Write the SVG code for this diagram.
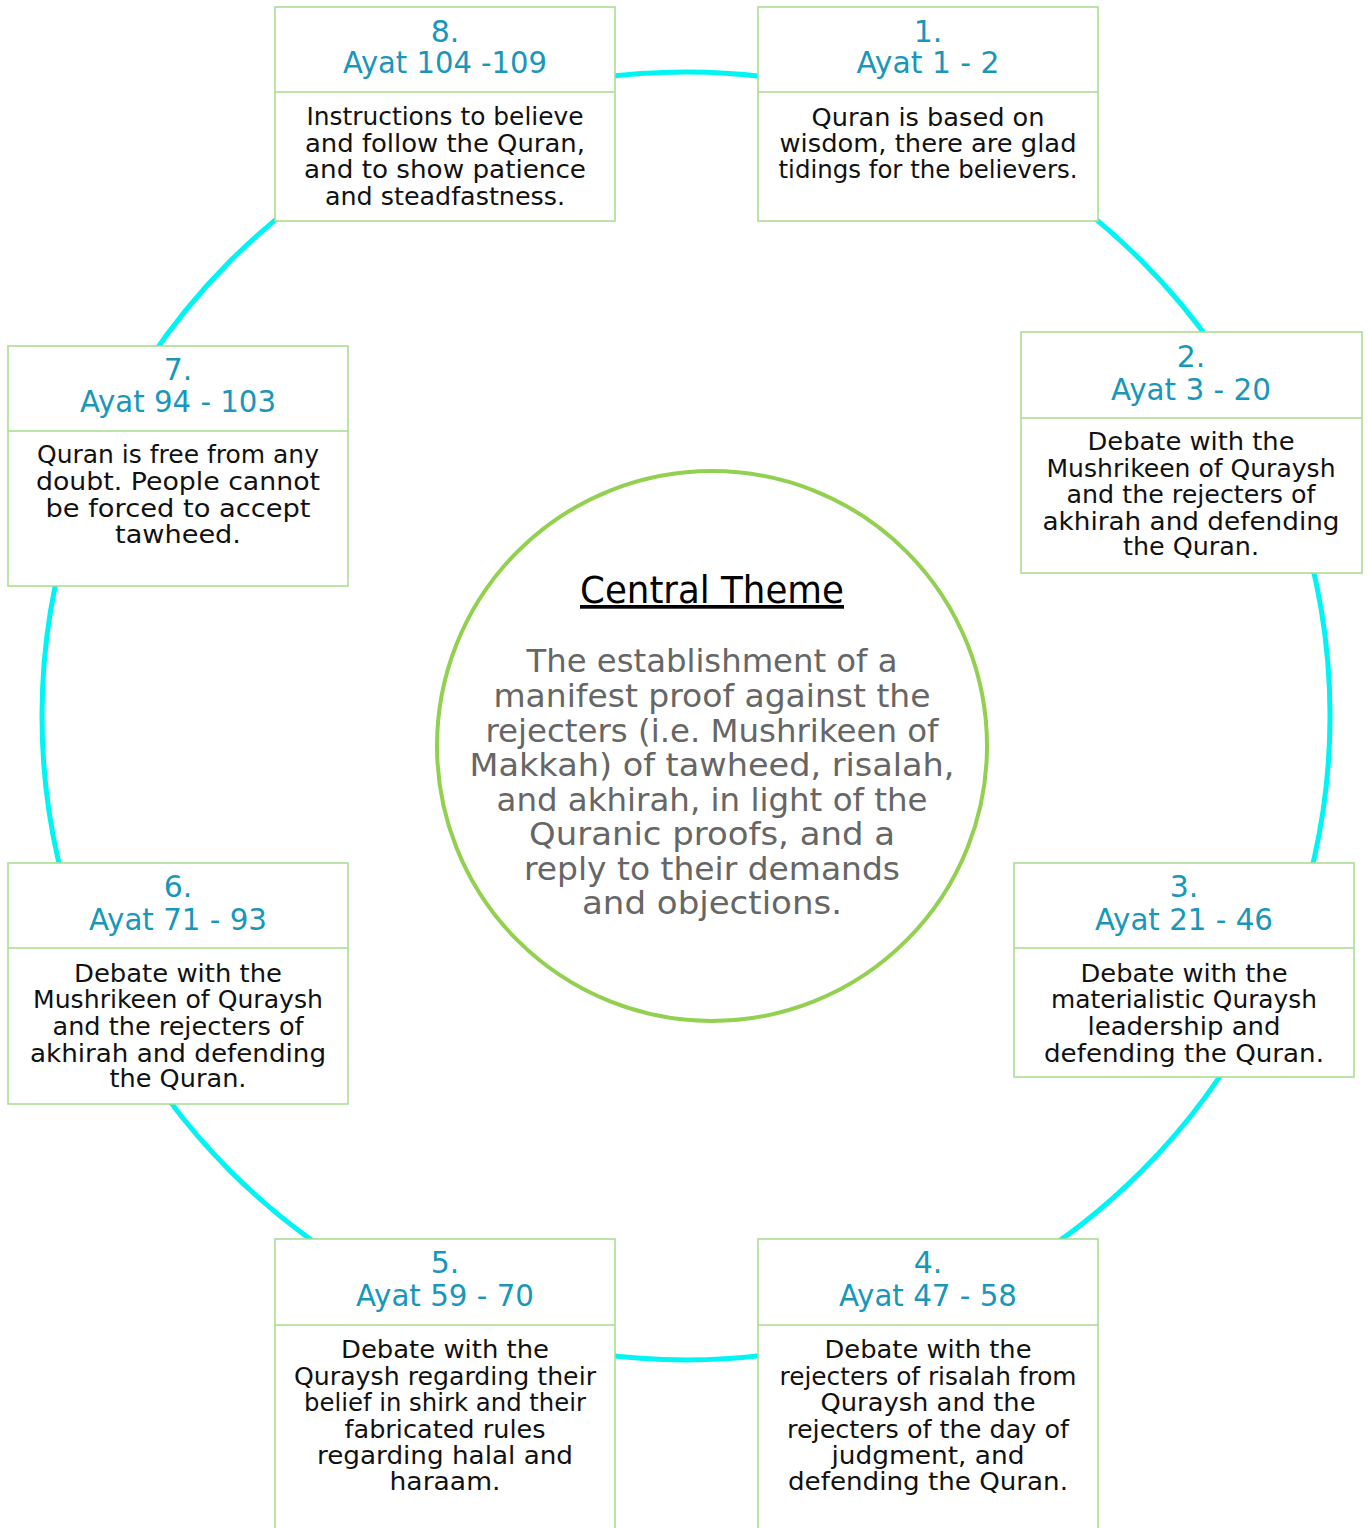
<svg xmlns="http://www.w3.org/2000/svg" width="1369" height="1528" viewBox="0 0 1369 1528">
<style>
.box{fill:#ffffff;stroke:#A8DC8C;stroke-width:1.5}
.div{stroke:#A8DC8C;stroke-width:1.5}
.hd{font-family:"DejaVu Sans","Liberation Sans",sans-serif;font-size:30px;fill:#1897BA;text-anchor:middle}
.bd{font-family:"DejaVu Sans","Liberation Sans",sans-serif;font-size:24px;fill:#111111;text-anchor:middle}
.ct{font-family:"DejaVu Sans","Liberation Sans",sans-serif;font-size:37px;fill:#000000;text-anchor:middle;text-decoration:underline}
.cb{font-family:"DejaVu Sans","Liberation Sans",sans-serif;font-size:32px;fill:#666666;text-anchor:middle}
</style>
<rect width="1369" height="1528" fill="#ffffff"/>
<g id="connectors">
<circle cx="686" cy="716" r="644" fill="none" stroke="#00F4F4" stroke-width="5"/>
</g>
<g id="center">
<circle cx="712" cy="746" r="275" fill="#ffffff" stroke="#92D050" stroke-width="4"/>
<text class="ct" x="712" y="603" textLength="264" lengthAdjust="spacingAndGlyphs">Central Theme</text>
<text class="cb" x="712" y="672" textLength="371" lengthAdjust="spacingAndGlyphs">The establishment of a</text>
<text class="cb" x="712" y="707" textLength="437" lengthAdjust="spacingAndGlyphs">manifest proof against the</text>
<text class="cb" x="712" y="742" textLength="453" lengthAdjust="spacingAndGlyphs">rejecters (i.e. Mushrikeen of</text>
<text class="cb" x="712" y="776" textLength="485" lengthAdjust="spacingAndGlyphs">Makkah) of tawheed, risalah,</text>
<text class="cb" x="712" y="811" textLength="431" lengthAdjust="spacingAndGlyphs">and akhirah, in light of the</text>
<text class="cb" x="712" y="845" textLength="366" lengthAdjust="spacingAndGlyphs">Quranic proofs, and a</text>
<text class="cb" x="712" y="880" textLength="376" lengthAdjust="spacingAndGlyphs">reply to their demands</text>
<text class="cb" x="712" y="914" textLength="260" lengthAdjust="spacingAndGlyphs">and objections.</text>
</g>
<g id="node8">
<rect class="box" x="275" y="7" width="340" height="214"/>
<line class="div" x1="275" y1="92" x2="615" y2="92"/>
<text class="hd" x="445" y="42">8.</text>
<text class="hd" x="445" y="73" textLength="204" lengthAdjust="spacingAndGlyphs">Ayat 104 -109</text>
<text class="bd" x="445" y="125" textLength="277" lengthAdjust="spacingAndGlyphs">Instructions to believe</text>
<text class="bd" x="445" y="152" textLength="280" lengthAdjust="spacingAndGlyphs">and follow the Quran,</text>
<text class="bd" x="445" y="178" textLength="282" lengthAdjust="spacingAndGlyphs">and to show patience</text>
<text class="bd" x="445" y="205" textLength="240" lengthAdjust="spacingAndGlyphs">and steadfastness.</text>
</g>
<g id="node1">
<rect class="box" x="758" y="7" width="340" height="214"/>
<line class="div" x1="758" y1="92" x2="1098" y2="92"/>
<text class="hd" x="928" y="42">1.</text>
<text class="hd" x="928" y="73" textLength="143" lengthAdjust="spacingAndGlyphs">Ayat 1 - 2</text>
<text class="bd" x="928" y="126" textLength="233" lengthAdjust="spacingAndGlyphs">Quran is based on</text>
<text class="bd" x="928" y="152" textLength="297" lengthAdjust="spacingAndGlyphs">wisdom, there are glad</text>
<text class="bd" x="928" y="178" textLength="299" lengthAdjust="spacingAndGlyphs">tidings for the believers.</text>
</g>
<g id="node2">
<rect class="box" x="1021" y="332" width="341" height="241"/>
<line class="div" x1="1021" y1="418" x2="1362" y2="418"/>
<text class="hd" x="1191" y="367">2.</text>
<text class="hd" x="1191" y="400" textLength="160" lengthAdjust="spacingAndGlyphs">Ayat 3 - 20</text>
<text class="bd" x="1191" y="450" textLength="207" lengthAdjust="spacingAndGlyphs">Debate with the</text>
<text class="bd" x="1191" y="477" textLength="289" lengthAdjust="spacingAndGlyphs">Mushrikeen of Quraysh</text>
<text class="bd" x="1191" y="503" textLength="249" lengthAdjust="spacingAndGlyphs">and the rejecters of</text>
<text class="bd" x="1191" y="530" textLength="297" lengthAdjust="spacingAndGlyphs">akhirah and defending</text>
<text class="bd" x="1191" y="555" textLength="136" lengthAdjust="spacingAndGlyphs">the Quran.</text>
</g>
<g id="node3">
<rect class="box" x="1014" y="863" width="340" height="214"/>
<line class="div" x1="1014" y1="948" x2="1354" y2="948"/>
<text class="hd" x="1184" y="897">3.</text>
<text class="hd" x="1184" y="930" textLength="178" lengthAdjust="spacingAndGlyphs">Ayat 21 - 46</text>
<text class="bd" x="1184" y="982" textLength="207" lengthAdjust="spacingAndGlyphs">Debate with the</text>
<text class="bd" x="1184" y="1008" textLength="266" lengthAdjust="spacingAndGlyphs">materialistic Quraysh</text>
<text class="bd" x="1184" y="1035" textLength="193" lengthAdjust="spacingAndGlyphs">leadership and</text>
<text class="bd" x="1184" y="1062" textLength="280" lengthAdjust="spacingAndGlyphs">defending the Quran.</text>
</g>
<g id="node4">
<rect class="box" x="758" y="1239" width="340" height="300"/>
<line class="div" x1="758" y1="1325" x2="1098" y2="1325"/>
<text class="hd" x="928" y="1273">4.</text>
<text class="hd" x="928" y="1306" textLength="178" lengthAdjust="spacingAndGlyphs">Ayat 47 - 58</text>
<text class="bd" x="928" y="1358" textLength="207" lengthAdjust="spacingAndGlyphs">Debate with the</text>
<text class="bd" x="928" y="1385" textLength="297" lengthAdjust="spacingAndGlyphs">rejecters of risalah from</text>
<text class="bd" x="928" y="1411" textLength="215" lengthAdjust="spacingAndGlyphs">Quraysh and the</text>
<text class="bd" x="928" y="1438" textLength="282" lengthAdjust="spacingAndGlyphs">rejecters of the day of</text>
<text class="bd" x="928" y="1464" textLength="193" lengthAdjust="spacingAndGlyphs">judgment, and</text>
<text class="bd" x="928" y="1490" textLength="280" lengthAdjust="spacingAndGlyphs">defending the Quran.</text>
</g>
<g id="node5">
<rect class="box" x="275" y="1239" width="340" height="300"/>
<line class="div" x1="275" y1="1325" x2="615" y2="1325"/>
<text class="hd" x="445" y="1273">5.</text>
<text class="hd" x="445" y="1306" textLength="178" lengthAdjust="spacingAndGlyphs">Ayat 59 - 70</text>
<text class="bd" x="445" y="1358" textLength="208" lengthAdjust="spacingAndGlyphs">Debate with the</text>
<text class="bd" x="445" y="1385" textLength="302" lengthAdjust="spacingAndGlyphs">Quraysh regarding their</text>
<text class="bd" x="445" y="1411" textLength="282" lengthAdjust="spacingAndGlyphs">belief in shirk and their</text>
<text class="bd" x="445" y="1438" textLength="201" lengthAdjust="spacingAndGlyphs">fabricated rules</text>
<text class="bd" x="445" y="1464" textLength="256" lengthAdjust="spacingAndGlyphs">regarding halal and</text>
<text class="bd" x="445" y="1490" textLength="111" lengthAdjust="spacingAndGlyphs">haraam.</text>
</g>
<g id="node6">
<rect class="box" x="8" y="863" width="340" height="241"/>
<line class="div" x1="8" y1="948" x2="348" y2="948"/>
<text class="hd" x="178" y="897">6.</text>
<text class="hd" x="178" y="930" textLength="178" lengthAdjust="spacingAndGlyphs">Ayat 71 - 93</text>
<text class="bd" x="178" y="982" textLength="208" lengthAdjust="spacingAndGlyphs">Debate with the</text>
<text class="bd" x="178" y="1008" textLength="290" lengthAdjust="spacingAndGlyphs">Mushrikeen of Quraysh</text>
<text class="bd" x="178" y="1035" textLength="251" lengthAdjust="spacingAndGlyphs">and the rejecters of</text>
<text class="bd" x="178" y="1062" textLength="296" lengthAdjust="spacingAndGlyphs">akhirah and defending</text>
<text class="bd" x="178" y="1087" textLength="137" lengthAdjust="spacingAndGlyphs">the Quran.</text>
</g>
<g id="node7">
<rect class="box" x="8" y="346" width="340" height="240"/>
<line class="div" x1="8" y1="431" x2="348" y2="431"/>
<text class="hd" x="178" y="380">7.</text>
<text class="hd" x="178" y="412" textLength="196" lengthAdjust="spacingAndGlyphs">Ayat 94 - 103</text>
<text class="bd" x="178" y="463" textLength="282" lengthAdjust="spacingAndGlyphs">Quran is free from any</text>
<text class="bd" x="178" y="490" textLength="284" lengthAdjust="spacingAndGlyphs">doubt. People cannot</text>
<text class="bd" x="178" y="517" textLength="265" lengthAdjust="spacingAndGlyphs">be forced to accept</text>
<text class="bd" x="178" y="543" textLength="126" lengthAdjust="spacingAndGlyphs">tawheed.</text>
</g>
</svg>
